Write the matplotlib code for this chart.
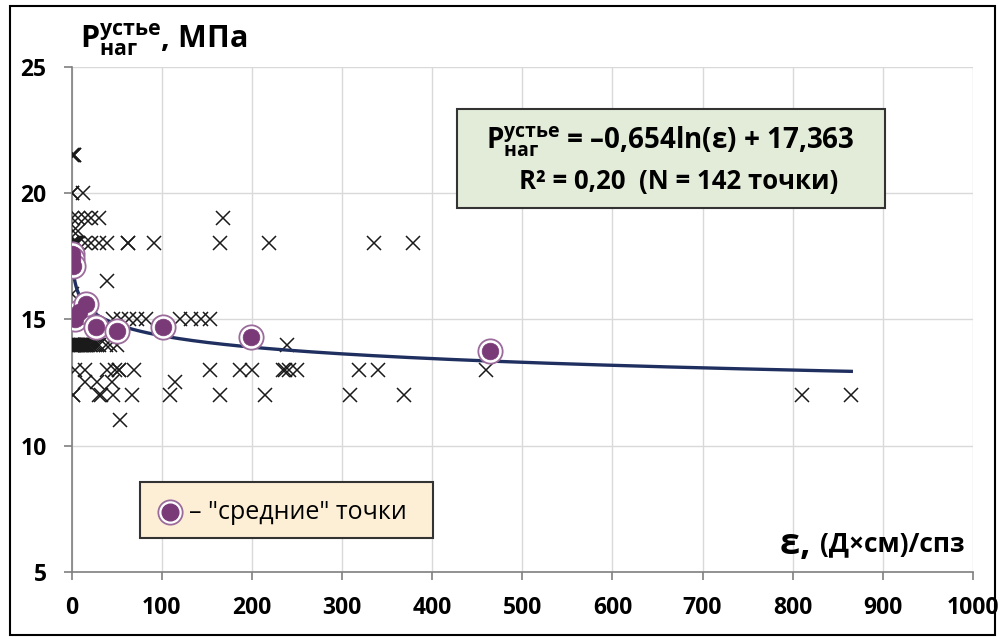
import matplotlib
matplotlib.use("Agg")
import matplotlib.pyplot as plt
import numpy as np
from matplotlib.patches import Rectangle

plt.rcParams['font.family'] = ['Open Sans', 'DejaVu Sans']
plt.rcParams['mathtext.fontset'] = 'custom'
plt.rcParams['mathtext.rm'] = 'Open Sans:bold'
plt.rcParams['mathtext.it'] = 'Open Sans:bold'
plt.rcParams['mathtext.bf'] = 'Open Sans:bold'

# ---- data: individual measurements (crosses) ----
x_215 = [1, 2, 3, 3]
x_200 = [0.5, 1, 13]
x_190 = [1, 7, 15, 22, 30, 168]
x_185 = [2, 7]
x_180 = [0.5, 1, 2, 3, 4, 5, 6, 7, 15, 22, 31, 39, 63, 63, 92, 165, 219, 335, 379]
x_175 = [1, 2]
x_170 = [1]
x_165 = [39]
x_160 = [1]
x_150 = [2, 5, 10, 15, 20, 46, 55, 64, 73, 83, 120, 133, 144, 154]
x_140 = [0.5, 1, 1, 2, 2, 3, 3, 4, 5, 5, 6, 7, 8, 9, 10, 11, 12, 13, 14, 15,
         16, 17, 18, 20, 22, 24, 26, 28, 30, 38, 43, 50, 239]
x_130 = [4, 15, 39, 48, 53, 53, 69, 154, 187, 200, 235, 237, 241, 250, 319, 340, 460]
x_125 = [15, 28, 45, 115]
x_120 = [2, 2, 31, 33, 46, 67, 109, 165, 215, 309, 369, 810, 865]
x_110 = [54]

levels = [21.5, 20, 19, 18.5, 18, 17.5, 17, 16.5, 16, 15, 14, 13, 12.5, 12, 11]
groups = [x_215, x_200, x_190, x_185, x_180, x_175, x_170, x_165, x_160,
          x_150, x_140, x_130, x_125, x_120, x_110]

# ---- "average" points ----
avg_x = [0.5, 1, 2, 4, 8, 16, 27, 50, 101, 199, 464]
avg_y = [17.6, 17.4, 17.1, 15.0, 15.3, 15.6, 14.7, 14.55, 14.68, 14.3, 13.74]

# ---- logarithmic trend ----
coef_a = -0.654
coef_b = 17.363
trend_xmin = 0.4
trend_xmax = 865

xticks = [0, 100, 200, 300, 400, 500, 600, 700, 800, 900, 1000]
yticks = [5, 10, 15, 20, 25]

fig = plt.figure(figsize=(10.01, 6.40), dpi=100)
ax = fig.add_axes([71.5 / 1001, 1 - 572 / 640, 901.5 / 1001, 505.4 / 640])

for lv, xs in zip(levels, groups):
    ax.plot(xs, [lv] * len(xs), linestyle='none', marker='x', markersize=10,
            markeredgewidth=1.1, color='#1a1a1a', zorder=3)

tx = np.linspace(trend_xmin, trend_xmax, 2000)
ax.plot(tx, coef_a * np.log(tx) + coef_b, color='#1f2f5f', lw=2.4, zorder=4)

ax.plot(avg_x, avg_y, linestyle='none', marker='o', markersize=17.5,
        markerfacecolor='white', markeredgecolor='#9b6c9b', markeredgewidth=1.3, zorder=5)
ax.plot(avg_x, avg_y, linestyle='none', marker='o', markersize=12,
        markerfacecolor='#7a3a78', markeredgecolor='#7a3a78', markeredgewidth=0.5, zorder=6)

ax.set_xlim(0, 1000)
ax.set_ylim(5, 25)
ax.set_xticks(xticks)
ax.set_yticks(yticks)
ax.grid(True, color='#d9d9d9', lw=1)
ax.set_axisbelow(True)
for s in ['top', 'right']:
    ax.spines[s].set_visible(False)
for s in ['left', 'bottom']:
    ax.spines[s].set_color('#7f7f7f')
    ax.spines[s].set_linewidth(1.2)
ax.tick_params(direction='out', length=6, width=1.2, color='#7f7f7f',
               labelsize=16.5, pad=12)
for lab in ax.get_xticklabels() + ax.get_yticklabels():
    lab.set_fontweight('bold')
ax.tick_params(axis='x', pad=11)

# y-axis label (top-left)
fig.text(80 / 1001, 1 - 40 / 640, r'P$_{\mathrm{наг}}^{\mathrm{устье}}$, МПа',
         fontsize=22, fontweight='bold', ha='left', va='center')

# x-axis label (bottom-right inside)
xl = fig.text(965 / 1001, 1 - 544 / 640, '(Д×см)/спз', fontsize=19,
              fontweight='bold', ha='right', va='center')
ax.annotate('ε, ', xy=(0, 0.45), xycoords=xl, fontsize=26, fontweight='bold',
            ha='right', va='center')

# equation box
ax.add_patch(Rectangle((0.4275, 0.720), 0.4745, 0.196, transform=ax.transAxes,
                       facecolor='#e2ecd9', edgecolor='#333333', lw=1.5, zorder=7))
ax.text(0.664, 0.852, r'P$_{\mathrm{наг}}^{\mathrm{устье}}$ = –0,654ln(ε) + 17,363',
        transform=ax.transAxes, fontsize=20, fontweight='bold', ha='center',
        va='center', zorder=8)
ax.text(0.674, 0.773, 'R² = 0,20  (N = 142 точки)', transform=ax.transAxes,
        fontsize=18.5, fontweight='bold', ha='center', va='center', zorder=8)

# legend box
ax.add_patch(Rectangle((0.076, 0.0673), 0.325, 0.1107, transform=ax.transAxes,
                       facecolor='#fdefd6', edgecolor='#333333', lw=1.5, zorder=7))
ax.plot([0.1093], [0.1187], transform=ax.transAxes, marker='o', markersize=17.5,
        markerfacecolor='white', markeredgecolor='#9b6c9b', markeredgewidth=1.3,
        zorder=8, clip_on=False)
ax.plot([0.1093], [0.1187], transform=ax.transAxes, marker='o', markersize=12,
        markerfacecolor='#7a3a78', markeredgecolor='#7a3a78', zorder=9, clip_on=False)
ax.text(0.130, 0.1187, '– "средние" точки', transform=ax.transAxes, fontsize=18,
        ha='left', va='center', zorder=9)

# outer frame
fig.add_artist(Rectangle((10 / 1001, 1 - 635 / 640), 985 / 1001, 629 / 640,
                         transform=fig.transFigure, fill=False,
                         edgecolor='black', lw=1.5))

fig.savefig('out.png', dpi=100)
